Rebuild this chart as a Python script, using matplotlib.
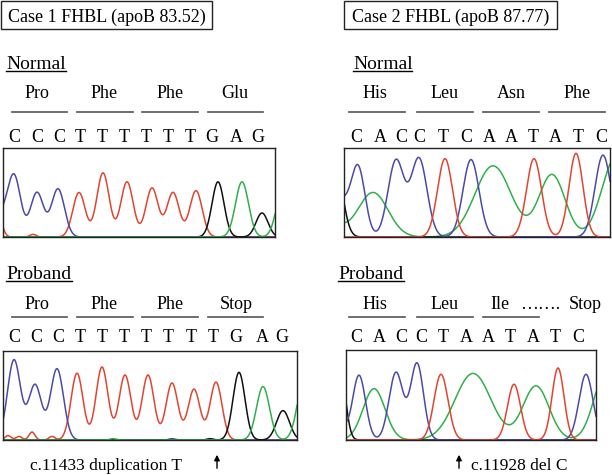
import numpy as np
import matplotlib.pyplot as plt

plt.rcParams['font.family'] = ['Liberation Serif', 'DejaVu Serif']

# TITLES
titles = ['Case 1 FHBL (apoB 83.52)', 'Case 2 FHBL (apoB 87.77)']

# CODONS AND BASES
codons_c1_normal = ['Pro', 'Phe', 'Phe', 'Glu']
codons_c1_proband = ['Pro', 'Phe', 'Phe', 'Stop']
codons_c2_normal = ['His', 'Leu', 'Asn', 'Phe']
codons_c2_proband = ['His', 'Leu', 'Ile']
bases_c1_normal = list('CCCTTTTTTGAG')
bases_c1_proband = list('CCCTTTTTTTGAG')
bases_c2_normal = list('CACCTCAATATC')
bases_c2_proband = list('CACCTAATATC')

# PEAKS (centre, height, width) PER CHANNEL
# case 1 normal
a_blue = [[1, 14, 37, 58], [0.2, 0.69, 0.5, 0.54], [6, 6.5, 6.5, 6.5]]
a_red = [[-2, 33, 79, 103, 127, 152, 173, 196],
         [0.25, 0.03, 0.5, 0.72, 0.62, 0.55, 0.5, 0.52],
         [4, 3, 6.2, 6.2, 6.2, 6.2, 6.2, 6.2]]
a_black = [[218, 262], [0.62, 0.27], [6, 6]]
a_green = [[242, 283], [0.62, 0.55], [6.5, 6.5]]
# case 2 normal
b_blue = [[340, 358, 396, 419, 471, 603],
          [0.4, 0.78, 0.86, 0.88, 0.87, 0.92], [8, 7, 8, 8, 8, 8]]
b_red = [[445, 534, 576], [0.88, 0.88, 0.94], [7.5, 7.5, 7]]
b_black = [[336], [0.75], [7]]
b_green = [[320, 373, 493, 552, 616],
           [0.3, 0.5, 0.8, 0.7, 0.9], [15, 15, 18, 13, 14]]
# case 1 proband
c_blue = [[14, 35, 57, 172], [0.9, 0.62, 0.8, 0.015], [6.5, 6.5, 6.5, 3]]
c_red = [[8, 19, 32, 52, 77, 102, 125, 148, 172, 194, 216],
         [0.05, 0.04, 0.09, 0.04, 0.75, 0.82, 0.73, 0.73, 0.64, 0.57, 0.65],
         [3, 3, 3, 3, 6, 6, 6, 6, 6, 6, 6]]
c_black = [[210, 239, 283], [0.015, 0.76, 0.33], [3, 6, 6.5]]
c_green = [[113, 263, 305], [0.015, 0.6, 0.75], [3, 6.5, 7]]
# case 2 proband
d_blue = [[338, 359, 396, 417, 586],
          [0.25, 0.72, 0.75, 0.85, 0.73], [6, 6.5, 7, 6.5, 7]]
d_red = [[441, 514, 558], [0.73, 0.62, 0.8], [7, 6.5, 6]]
d_black = [[341], [0.7], [5]]
d_green = [[374, 473, 536, 606], [0.57, 0.74, 0.6, 0.75], [11, 18, 13, 12]]

colors = {'blue': '#4b4aa8', 'red': '#e2452f', 'green': '#30b04a', 'black': '#111111'}

W, H = 612, 475
fig = plt.figure(figsize=(W / 100, H / 100), dpi=100)

# OVERLAY AXES IN PIXEL UNITS FOR THE TEXT
ov = fig.add_axes([0, 0, 1, 1])
ov.set_xlim(0, W)
ov.set_ylim(H, 0)
ov.axis('off')


def trace_axes(left, top, right, bottom, channels):
    ax = fig.add_axes([left / W, 1 - bottom / H, (right - left) / W, (bottom - top) / H])
    x = np.linspace(left, right, 800)
    for name, (cs, hs, ss) in channels:
        y = np.zeros_like(x)
        for c, h, s in zip(cs, hs, ss):
            y += h * np.exp(-(x - c) ** 2 / (2 * s ** 2))
        ax.plot(x, y, color=colors[name], lw=1.1)
    ax.set_xlim(left, right)
    ax.set_ylim(0, 1)
    ax.set_xticks([])
    ax.set_yticks([])
    for sp in ax.spines.values():
        sp.set_linewidth(1.0)
        sp.set_color('#222222')
    return ax


def underline_label(x, y, text, x2):
    ov.text(x, y, text, fontsize=14, va='baseline', ha='left')
    ov.plot([x, x2], [y + 2, y + 2], color='black', lw=1)


def codon_row(centres, labels, y, line_y, spans):
    for c, lab in zip(centres, labels):
        ov.text(c, y, lab, fontsize=13, ha='center', va='baseline')
    for a, b in spans:
        ov.plot([a, b], [line_y, line_y], color='#555555', lw=1.2)


def base_row(xs, labels, y):
    for xx, lab in zip(xs, labels):
        ov.text(xx, y, lab, fontsize=13, ha='center', va='baseline')


# TITLE BOXES
for (l, r), t in zip([(1, 212), (344, 557)], titles):
    ov.add_patch(plt.Rectangle((l, 1), r - l, 28, fill=False, lw=1.0, ec='#222222'))
    ov.text((l + r) / 2, 22, t, fontsize=13, ha='center', va='baseline')

# CASE 1 NORMAL
underline_label(6, 69, 'Normal', 66)
codon_row([37, 104, 170, 235], codons_c1_normal, 98, 112,
          [(12, 67), (77, 133), (142, 198), (208, 263)])
base_row([14, 37, 59, 80, 102, 124, 146, 168, 190, 212, 236, 258], bases_c1_normal, 142)
trace_axes(3, 148, 275, 237, [('red', a_red), ('blue', a_blue),
                              ('black', a_black), ('green', a_green)])

# CASE 2 NORMAL
underline_label(353, 69, 'Normal', 412)
codon_row([375, 445, 511, 577], codons_c2_normal, 98, 112,
          [(349, 405), (417, 473), (483, 539), (549, 605)])
base_row([356, 380, 401, 419, 443, 466, 489, 511, 533, 555, 578, 601], bases_c2_normal, 142)
trace_axes(344, 148, 610, 237, [('green', b_green), ('black', b_black),
                                ('blue', b_blue), ('red', b_red)])

# CASE 1 PROBAND
underline_label(6, 279, 'Proband', 72)
codon_row([37, 104, 170, 236], codons_c1_proband, 309, 317,
          [(12, 67), (77, 133), (142, 198), (208, 263)])
base_row([14, 36, 58, 80, 102, 124, 146, 168, 191, 213, 236, 262, 282], bases_c1_proband, 342)
trace_axes(3, 351, 297, 440, [('red', c_red), ('blue', c_blue),
                              ('black', c_black), ('green', c_green)])
ov.text(30, 470, 'c.11433 duplication T', fontsize=12.5, ha='left', va='baseline')
ov.annotate('', xy=(217, 452), xytext=(217, 471),
            arrowprops=dict(arrowstyle='-|>', color='black', lw=1, mutation_scale=8))

# CASE 2 PROBAND
underline_label(338, 279, 'Proband', 404)
codon_row([375, 445, 500], codons_c2_proband, 309, 317,
          [(349, 405), (417, 473), (483, 539)])
ov.text(540, 309, '\u2026\u2026.', fontsize=13, ha='center', va='baseline')
ov.text(569, 309, 'Stop', fontsize=13, ha='left', va='baseline')
base_row([356, 379, 401, 421, 443, 466, 488, 510, 533, 555, 578], bases_c2_proband, 342)
trace_axes(346, 350, 596, 440, [('green', d_green), ('black', d_black),
                                ('blue', d_blue), ('red', d_red)])
ov.annotate('', xy=(459, 452), xytext=(459, 471),
            arrowprops=dict(arrowstyle='-|>', color='black', lw=1, mutation_scale=8))
ov.text(471, 470, 'c.11928 del C', fontsize=12.5, ha='left', va='baseline')

fig.savefig('out.png', dpi=100)
